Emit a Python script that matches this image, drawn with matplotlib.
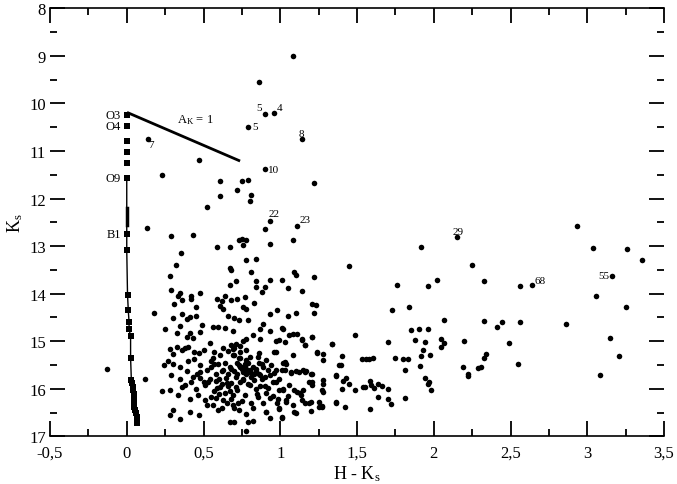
import matplotlib
matplotlib.use("Agg")
import matplotlib.pyplot as plt

plt.rcParams['font.family'] = ['Liberation Serif', 'DejaVu Serif']
plt.rcParams['mathtext.fontset'] = 'custom'
plt.rcParams['mathtext.rm'] = 'Liberation Serif'
plt.rcParams['mathtext.it'] = 'Liberation Serif:italic'

# ---------------- data ----------------
# field stars: H-Ks colour and Ks magnitude
star_x = [
    1.08, 0.86, 0.90, 0.96, 0.79, 1.14, 0.14, 0.47, 0.90, 0.23, 1.22, 0.61, 0.75, 0.79, 0.72, 0.81,
    0.61, 0.80, 0.52, 0.93, 1.11, 0.90, 0.13, 0.29, 0.43, 1.08, 0.93, 0.73, 0.75, 0.78, 0.76, 0.59,
    0.67, 0.355, 0.32, 0.78, 0.84, 0.285, 0.67, 0.68, 0.81, 1.09, 1.10, 1.22, 0.93, 1.01, 0.84, 0.71,
    0.67, 1.05, 0.84, 0.90, 0.88, 1.14, 0.29, 0.35, 0.335, 0.42, 0.475, 0.64, 0.59, 0.36, 0.42, 0.62,
    0.68, 0.72, 0.77, 0.83, 0.31, 0.61, 0.76, 1.21, 0.18, 0.45, 0.63, 0.78, 0.93, 0.98, 1.10, 1.05,
    0.36, 0.41, 0.30, 0.39, 0.45, 0.49, 0.66, 0.70, 0.73, 0.79, 0.89, 0.93, 0.87, 1.01, 1.11, 1.08,
    1.21, 1.14, 0.35, 0.25, 0.325, 0.41, 0.39, 0.43, 0.475, 0.56, 0.595, 0.64, 0.69, 0.82, 0.87, 0.78,
    0.76, 1.34, 1.16, 1.03, 0.97, 1.08, 1.24, 1.28, 1.28, 0.28, 0.325, 0.36, 0.30, 0.38, 0.40, 0.44,
    0.50, 0.545, 0.57, 0.61, 0.68, 0.69, 0.70, 0.74, 0.80, 0.855, 0.91, 0.94, 0.24, 0.27, 0.30, 0.35,
    0.40, 0.44, 0.475, 0.52, 0.55, 0.595, 0.63, 0.67, 0.72, 0.77, 0.78, 0.76, 0.81, 0.84, 0.89, 0.93,
    0.96, 1.02, 1.03, 1.07, 1.10, 1.15, 1.17, 1.21, 1.36, 1.38, 0.12, -0.13, 0.29, 0.35, 0.38, 0.36,
    0.42, 0.475, 0.51, 0.54, 0.58, 0.61, 0.645, 0.68, 0.71, 0.76, 0.79, 0.83, 0.865, 0.90, 0.92, 0.97,
    1.02, 1.06, 1.11, 1.19, 1.21, 1.28, 1.28, 1.36, 0.23, 0.285, 0.335, 0.41, 0.465, 0.51, 0.56, 0.595,
    0.63, 0.69, 0.725, 0.77, 0.81, 0.855, 0.91, 0.91, 0.985, 0.995, 1.04, 1.09, 1.135, 1.16, 1.20, 1.255,
    1.27, 1.20, 0.30, 0.28, 0.35, 0.415, 0.47, 0.67, 0.70, 0.78, 0.79, 0.82, 0.775, 0.91, 0.93, 1.01,
    1.10,
    # extra points in the dense core
    0.74, 0.76, 0.78, 0.80, 0.72, 0.70, 0.66, 0.64, 0.74, 0.79, 0.83, 0.86, 0.77, 0.73, 0.69, 0.88,
    0.84, 0.66, 0.58, 0.55, 0.62, 0.86, 0.92, 0.99, 0.95, 0.57, 0.53, 0.48, 0.45, 0.52, 0.60, 0.65,
    0.70, 0.75, 0.82, 0.89, 0.98, 1.05, 0.67, 0.63, 0.71, 0.56, 0.47,
    0.75, 0.77, 0.79, 0.81, 0.76, 0.78, 0.74, 0.82, 0.80, 0.73, 0.71, 0.68, 0.65, 0.62, 0.60, 0.57,
    0.84, 0.87, 0.85, 0.90, 0.93, 0.68, 0.72, 0.64, 0.59, 0.55, 0.50, 0.46, 0.43, 0.39, 0.66, 0.70,
    0.74, 0.78, 0.86, 0.88, 0.69, 0.73, 0.62, 0.58,
    # 0.95 - 1.3 region
    1.02, 1.06, 1.21, 1.14, 1.16, 0.97, 0.995, 1.24, 0.96, 1.03, 1.04, 0.97, 1.01, 1.07, 1.12, 1.16,
    1.20, 0.95, 0.995, 1.02, 1.09, 1.13, 1.15, 1.21, 1.27, 1.28, 1.04, 1.14, 1.08, 1.19, 1.27, 0.995,
    1.01,
    # redder stars
    1.92, 1.45, 2.25, 3.04, 3.26, 3.355, 3.16, 3.06, 3.25, 3.15, 3.21, 3.08, 2.64, 2.565, 2.33, 2.02,
    1.96, 1.76, 1.73, 1.84, 2.07, 2.33, 2.445, 2.41, 2.565, 2.86, 1.49, 1.34, 1.85, 1.905, 1.96, 1.88,
    1.94, 2.045, 2.07, 2.045, 2.20, 2.49, 1.70, 1.93, 1.975, 1.915, 1.75, 1.80, 1.83, 1.53, 1.56, 1.58,
    1.605, 1.40, 1.395, 1.36, 1.41, 1.43, 1.45, 1.405, 1.49, 1.54, 1.585, 1.59, 1.61, 1.64, 1.665, 1.70,
    1.64, 1.70, 1.72, 1.36, 1.42, 1.585, 1.81, 1.91, 1.94, 1.96, 1.97, 1.98, 2.19, 2.225, 2.22, 2.29,
    2.31, 2.325, 2.34, 2.55, 2.93, 2.15, 1.23, 1.22, 1.81, 1.55, 1.255,
]
star_y = [
    9.00, 9.55, 10.22, 10.20, 10.49, 10.75, 10.75, 11.18, 11.38, 11.50, 11.68, 11.63, 11.63, 11.61, 11.83, 11.92,
    11.95, 12.05, 12.18, 12.47, 12.57, 12.65, 12.62, 12.78, 12.76, 12.87, 12.95, 12.87, 12.86, 12.88, 12.97, 13.02,
    13.02, 13.15, 13.39, 13.29, 13.27, 13.63, 13.46, 13.50, 13.55, 13.55, 13.60, 13.65, 13.72, 13.71, 13.74, 13.74,
    13.81, 13.88, 13.86, 13.86, 13.97, 13.95, 13.93, 13.98, 14.05, 14.05, 13.99, 14.06, 14.11, 14.14, 14.11, 14.15,
    14.13, 14.11, 14.08, 14.20, 14.21, 14.25, 14.28, 14.21, 14.40, 14.28, 14.33, 14.33, 14.42, 14.35, 14.40, 14.47,
    14.42, 14.49, 14.51, 14.54, 14.47, 14.65, 14.47, 14.51, 14.56, 14.55, 14.63, 14.79, 14.74, 14.72, 14.84, 14.84,
    14.91, 14.95, 14.68, 14.74, 14.82, 14.82, 14.91, 14.93, 14.81, 14.70, 14.71, 14.73, 14.79, 14.88, 14.95, 14.95,
    15.00, 15.05, 15.09, 15.02, 15.23, 15.28, 15.23, 15.26, 15.40, 15.16, 15.12, 15.19, 15.26, 15.15, 15.12, 15.22,
    15.18, 15.03, 15.22, 15.30, 15.09, 15.16, 15.14, 15.22, 15.33, 15.34, 15.39, 15.51, 15.51, 15.42, 15.49, 15.54,
    15.42, 15.38, 15.51, 15.60, 15.42, 15.49, 15.61, 15.54, 15.45, 15.61, 15.58, 15.55, 15.66, 15.58, 15.54, 15.72,
    15.66, 15.45, 15.60, 15.66, 15.63, 15.61, 15.63, 15.68, 15.72, 15.51, 15.79, 15.58, 15.72, 15.79, 15.93, 15.96,
    15.86, 15.78, 15.93, 15.79, 15.84, 15.96, 15.78, 15.87, 15.96, 15.79, 15.89, 15.82, 15.94, 15.75, 15.98, 15.86,
    16.03, 15.93, 16.07, 15.86, 15.93, 15.89, 16.07, 16.28, 16.05, 16.03, 16.14, 16.21, 16.14, 16.24, 16.35, 16.45,
    16.24, 16.14, 16.29, 16.14, 16.31, 16.17, 16.08, 16.49, 16.21, 16.42, 16.28, 16.49, 16.14, 16.31, 16.28, 16.28,
    16.38, 16.47, 16.45, 16.56, 16.63, 16.49, 16.56, 16.69, 16.69, 16.54, 16.69, 16.68, 16.89, 16.49, 16.61, 16.61,
    16.52,
    # extra points in the dense core
    15.55, 15.65, 15.70, 15.60, 15.70, 15.62, 15.68, 15.45, 15.35, 15.45, 15.70, 15.68, 15.48, 15.35, 15.30, 15.80,
    16.00, 15.95, 15.70, 15.55, 15.90, 15.45, 15.60, 15.80, 16.15, 16.05, 15.85, 15.65, 16.00, 16.35, 16.10, 16.30,
    16.40, 16.25, 16.40, 16.30, 16.30, 16.15, 16.05, 15.15, 15.05, 15.35, 15.25,
    15.58, 15.52, 15.62, 15.75, 15.82, 15.40, 15.85, 15.55, 15.92, 15.50, 15.75, 15.58, 15.88, 15.62, 15.80, 15.48,
    15.62, 15.72, 16.10, 15.95, 16.20, 16.22, 16.02, 16.08, 15.98, 16.18, 15.85, 15.68, 15.75, 15.62, 15.20, 15.28,
    15.10, 15.18, 15.25, 15.48, 16.35, 16.45, 16.40, 16.20,
    # 0.95 - 1.3 region
    14.74, 14.86, 14.91, 14.98, 15.07, 15.00, 14.98, 15.25, 15.23, 15.44, 15.49, 15.61, 15.61, 15.65, 15.64, 15.64,
    15.68, 15.86, 16.03, 16.00, 16.02, 16.08, 16.02, 15.86, 16.02, 15.82, 16.24, 16.23, 16.35, 16.29, 16.37, 16.40,
    16.59,
    # redder stars
    13.01, 13.41, 13.39, 13.04, 13.06, 13.30, 13.63, 14.04, 14.28, 14.93, 15.31, 15.72, 13.81, 13.83, 13.74, 13.71,
    13.84, 13.81, 14.35, 14.28, 14.55, 14.58, 14.60, 14.70, 14.60, 14.63, 14.86, 15.05, 14.77, 14.75, 14.74, 14.97,
    15.02, 14.96, 15.03, 15.12, 15.00, 15.04, 15.02, 15.18, 15.28, 15.31, 15.35, 15.38, 15.37, 15.38, 15.38, 15.37,
    15.36, 15.31, 15.51, 15.73, 15.84, 15.77, 15.89, 16.00, 16.02, 15.96, 15.84, 15.93, 15.98, 15.89, 15.95, 16.01,
    16.17, 16.22, 16.33, 16.29, 16.38, 16.43, 15.61, 15.52, 15.78, 15.89, 15.86, 16.03, 15.54, 15.68, 15.73, 15.56,
    15.54, 15.36, 15.26, 15.49, 12.58, 12.81, 14.23, 14.40, 16.19, 15.97, 16.38,
]

# main sequence (squares)
ms_x = [0.0, 0.0, 0.0, 0.0, 0.0, 0.0, 0.0, 0.0, 0.005, 0.01, 0.015, 0.015, 0.025, 0.025,
        0.03, 0.035, 0.04, 0.04, 0.045, 0.045, 0.045, 0.05, 0.05, 0.055, 0.06, 0.065, 0.07]
ms_y = [10.25, 10.47, 10.80, 11.03, 11.26, 11.57, 12.75, 13.09, 14.02, 14.35, 14.60, 14.75, 14.89, 15.35,
        15.82, 15.88, 15.96, 16.03, 16.10, 16.17, 16.24, 16.31, 16.38, 16.45, 16.52, 16.60, 16.73]
ms_types = ['O3', 'O4', 'O9', 'B1']
ms_type_y = [10.25, 10.47, 11.57, 12.75]
# thicker stretch of the main-sequence line
ms_thick_x = [0.0, 0.0]
ms_thick_y = [12.2, 12.55]

# reddening vector A_K = 1
red_x = [0.01, 0.73]
red_y = [10.2, 11.2]

# numbered stars
id_text = ['5', '4', '5', '7', '8', '10', '22', '23', '29', '55', '68']
id_x = [0.90, 0.96, 0.79, 0.14, 1.14, 0.90, 0.93, 1.11, 2.15, 3.16, 2.64]
id_y = [10.22, 10.20, 10.49, 10.75, 10.75, 11.38, 12.47, 12.57, 12.81, 13.64, 13.81]

xticks = [-0.5, 0, 0.5, 1, 1.5, 2, 2.5, 3, 3.5]
xtick_labels = ['-0,5', '0', '0,5', '1', '1,5', '2', '2,5', '3', '3,5']
yticks = [8, 9, 10, 11, 12, 13, 14, 15, 16, 17]

# ---------------- plot ----------------
fig = plt.figure(figsize=(6.77, 4.85), dpi=100)
ax = fig.add_axes([50 / 677, 1 - 437.3 / 485, (664 - 50) / 677, (437.3 - 9.3) / 485])

ax.scatter(star_x, star_y, s=16, c='black', marker='o', linewidths=0, zorder=3)

# main sequence: line from O9 downward, squares everywhere
i_o9 = ms_y.index(11.57)
ax.plot(ms_x[i_o9:], ms_y[i_o9:], color='black', lw=1.0, zorder=2)
ax.plot(ms_thick_x, ms_thick_y, color='black', lw=2.5, zorder=2)
ax.scatter(ms_x, ms_y, s=20, c='black', marker='s', linewidths=0, zorder=3)
for t, yy in zip(ms_types, ms_type_y):
    ax.annotate(t, (0.0, yy), xytext=(-4, 0), textcoords='offset points',
                ha='right', va='center', fontsize=9)

ax.plot(red_x, red_y, color='black', lw=2, zorder=2)
ax.text(0.33, 10.47, r'$\mathrm{A_K}$ = 1', fontsize=9, ha='left', va='bottom')

offsets = {
    0: ((-2, 1), 'right', 'bottom'),
    1: ((2, 1), 'left', 'bottom'),
    2: ((3, 0), 'left', 'center'),
    3: ((0, -1), 'left', 'top'),
    4: ((0, 1), 'center', 'bottom'),
    5: ((2, 0), 'left', 'center'),
    6: ((-1, 2), 'left', 'bottom'),
    7: ((2, 1), 'left', 'bottom'),
    8: ((1, 1), 'center', 'bottom'),
    9: ((-2, 1), 'right', 'center'),
    10: ((2, 0), 'left', 'bottom'),
}
for i, (t, xx, yy) in enumerate(zip(id_text, id_x, id_y)):
    off, ha, va = offsets[i]
    ax.annotate(t, (xx, yy), xytext=off, textcoords='offset points',
                ha=ha, va=va, fontsize=8)

ax.set_xlim(-0.5, 3.5)
ax.set_ylim(17, 8)

ax.set_xticks(xticks, xtick_labels)
ax.set_yticks(yticks, [str(v) for v in yticks])
ax.set_xticks([v + 0.25 for v in xticks[:-1]], minor=True)
ax.set_yticks([v + 0.5 for v in yticks[:-1]], minor=True)

for s in ['left', 'right']:
    ax.spines[s].set_visible(False)
for s in ['top', 'bottom']:
    ax.spines[s].set_linewidth(1.2)

ax.tick_params(axis='both', which='both', direction='in', top=True, right=True, width=1.3)
ax.tick_params(axis='both', which='major', length=11, labelsize=12, pad=4)
ax.tick_params(axis='both', which='minor', length=5)
ax.tick_params(axis='x', which='major', pad=6)
ax.tick_params(axis='y', which='both', left=True, labelleft=True, pad=3)

ax.set_xlabel(r'H - $\mathrm{K_s}$', fontsize=13, labelpad=2)
ax.set_ylabel(r'$\mathrm{K_s}$', fontsize=13, labelpad=3)

fig.savefig('out.png', dpi=100)
